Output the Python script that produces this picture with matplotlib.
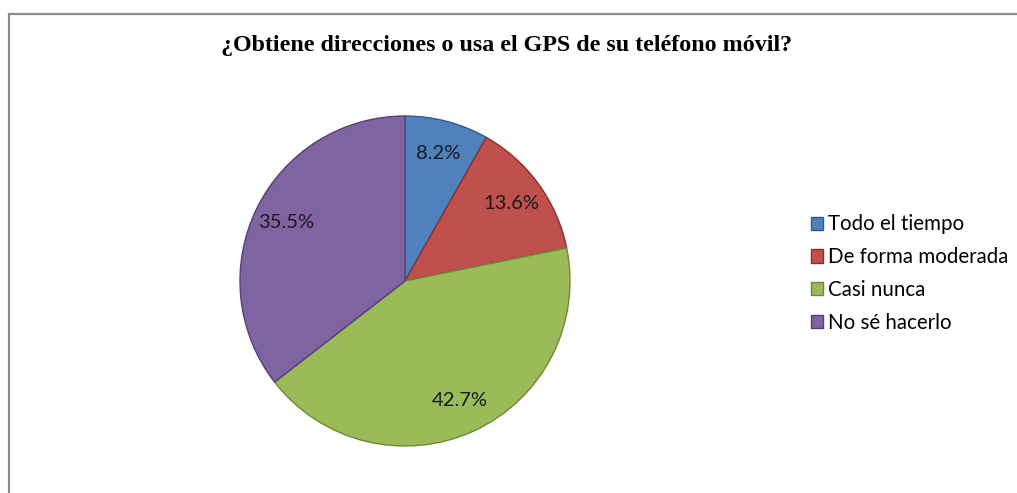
import matplotlib.pyplot as plt
from matplotlib.patches import Rectangle

# survey answers
categories = ["Todo el tiempo", "De forma moderada", "Casi nunca", "No sé hacerlo"]
shares = [8.2, 13.6, 42.7, 35.5]
colors = ["#4F81BD", "#C0504D", "#9BBB59", "#8064A2"]
edges = ["#2E5A8C", "#8C2F2C", "#6B8A35", "#553F78"]

W, H = 1017, 493
fig = plt.figure(figsize=(W / 100, H / 100), dpi=100)

# outer chart frame (only top/left visible in the crop)
fig.patches.append(Rectangle((9 / W, -0.2), 1.2, 1.2 - 14 / H, transform=fig.transFigure,
                             fill=False, edgecolor="#8a8a8a", linewidth=1.6))

cx, cy, r = 405, 281, 165
ax = fig.add_axes([(cx - r) / W, 1 - (cy + r) / H, 2 * r / W, 2 * r / H])
wedges, texts, autotexts = ax.pie(
    shares, colors=colors, startangle=90, counterclock=False,
    autopct="%.1f%%", pctdistance=0.8,
    wedgeprops=dict(linewidth=1.0),
    textprops=dict(fontsize=14.5, family="Lato", color="#1a1a1a"),
)
for w, e in zip(wedges, edges):
    w.set_edgecolor(e)
ax.set_xlim(-1, 1)
ax.set_ylim(-1, 1)
ax.axis("off")

fig.text(507 / W, 1 - 45 / H, "¿Obtiene direcciones o usa el GPS de su teléfono móvil?",
         ha="center", va="center", fontsize=17.3, fontweight="bold", family="Liberation Serif")

fig.legend(wedges, categories, loc="upper left", bbox_to_anchor=(792 / W, 1 - 196 / H),
           frameon=False, handlelength=0.6, handleheight=0.6, handletextpad=0.25,
           labelspacing=0.62, prop=dict(family="Lato", size=14.8))

fig.savefig("out.png", dpi=100)
